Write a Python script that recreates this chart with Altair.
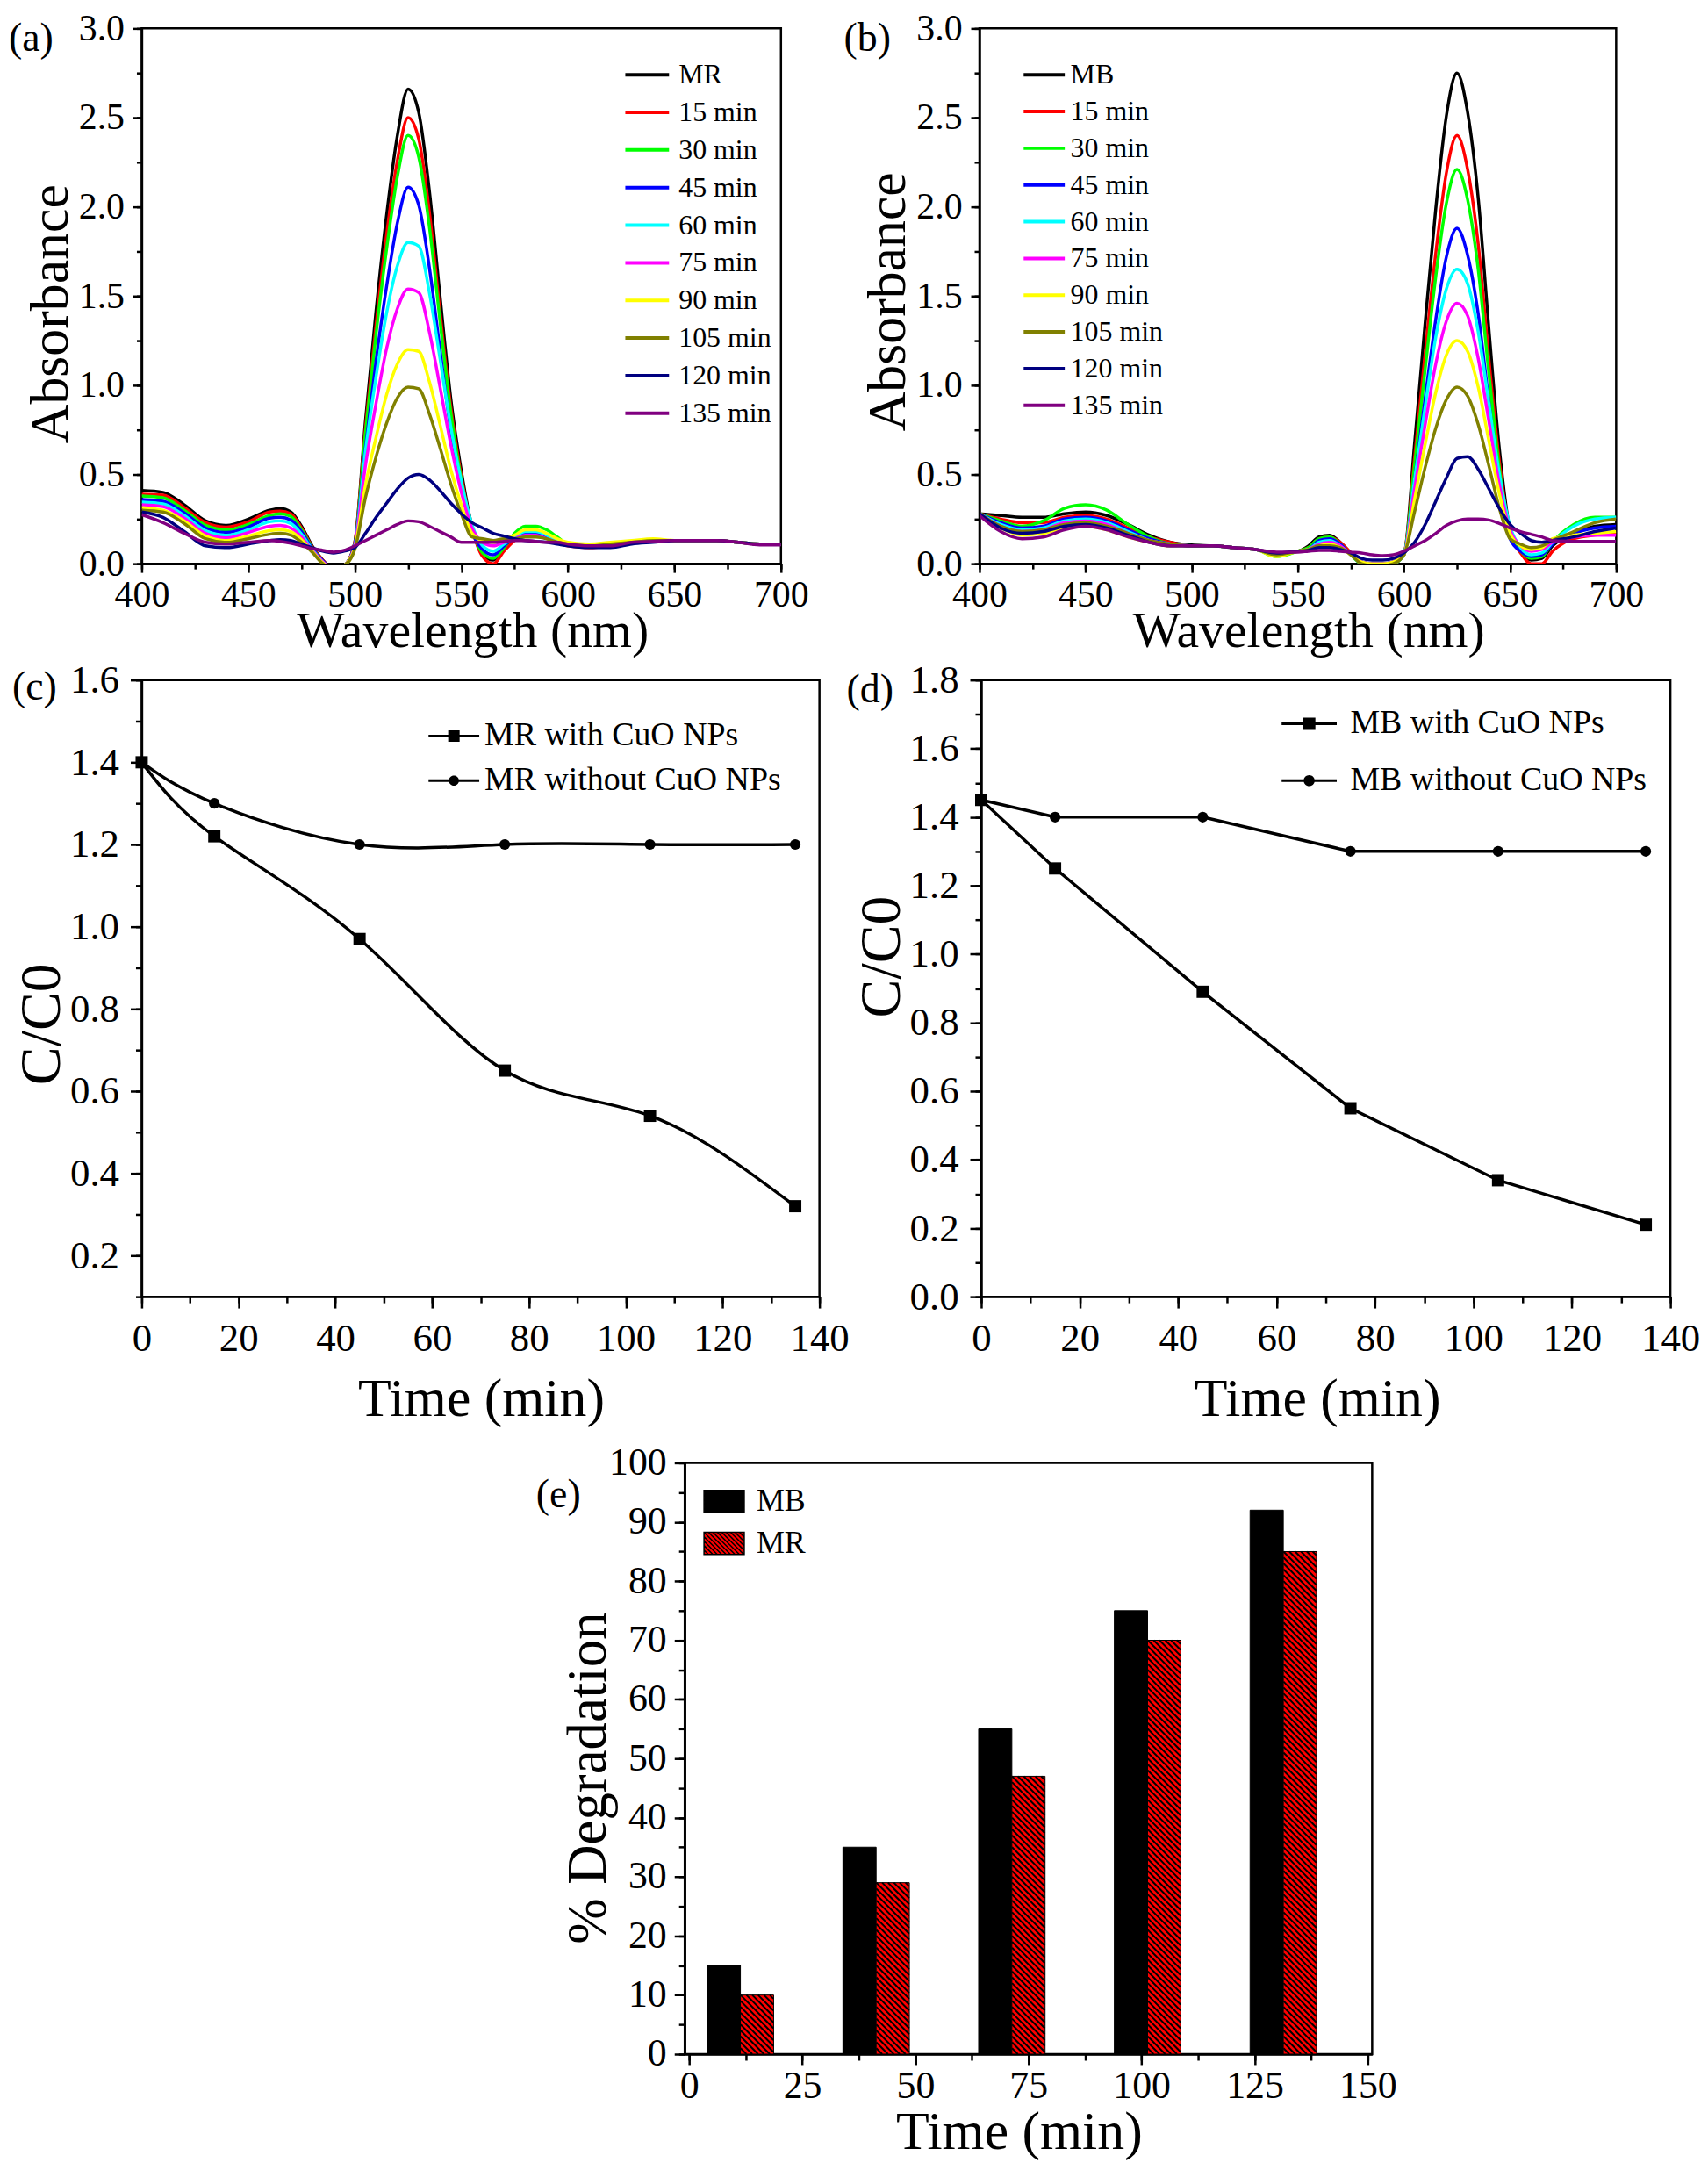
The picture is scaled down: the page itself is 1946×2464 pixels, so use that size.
import altair as alt
import pandas as pd

FONT = "Liberation Serif"

# ---------------- (a) MR absorption spectra ----------------
wl_a = [400, 410, 420, 430, 440, 450, 460, 465, 470, 475, 480, 485, 490, 495,
        500, 505, 510, 515, 520, 525, 530, 535, 540, 545, 550, 555, 560, 565,
        570, 575, 580, 585, 590, 595, 600, 610, 620, 630, 640, 650, 660, 670,
        680, 690, 700]
series_a = ["MR", "15 min", "30 min", "45 min", "60 min", "75 min", "90 min",
            "105 min", "120 min", "135 min"]
mr_0 = [0.41, 0.40, 0.33, 0.24, 0.215, 0.25, 0.30, 0.31, 0.29, 0.21, 0.10, 0.02, -0.03, -0.01,
        0.12, 0.80, 1.42, 1.96, 2.40, 2.66, 2.53, 2.09, 1.50, 0.93, 0.52, 0.21, 0.05, 0.02,
        0.09, 0.15, 0.18, 0.18, 0.16, 0.13, 0.11, 0.10, 0.11, 0.12, 0.13, 0.13, 0.13, 0.13,
        0.12, 0.11, 0.11]
mr_15 = [0.39, 0.385, 0.315, 0.23, 0.205, 0.235, 0.29, 0.295, 0.28, 0.20, 0.095, 0.02, -0.03, -0.01,
         0.12, 0.76, 1.34, 1.85, 2.26, 2.50, 2.38, 1.97, 1.41, 0.88, 0.49, 0.20, 0.04, 0.0,
         0.07, 0.13, 0.17, 0.17, 0.15, 0.12, 0.10, 0.09, 0.10, 0.12, 0.13, 0.13, 0.13, 0.13,
         0.12, 0.11, 0.11]
mr_30 = [0.38, 0.37, 0.30, 0.215, 0.19, 0.22, 0.27, 0.28, 0.265, 0.19, 0.09, 0.015, -0.03, -0.01,
         0.11, 0.73, 1.29, 1.77, 2.17, 2.40, 2.28, 1.89, 1.36, 0.85, 0.47, 0.20, 0.06, 0.03,
         0.09, 0.17, 0.21, 0.21, 0.19, 0.15, 0.11, 0.10, 0.11, 0.12, 0.13, 0.13, 0.13, 0.13,
         0.12, 0.11, 0.11]
mr_45 = [0.36, 0.35, 0.285, 0.20, 0.175, 0.205, 0.255, 0.26, 0.245, 0.18, 0.085, 0.015, -0.03, -0.01,
         0.11, 0.65, 1.14, 1.56, 1.91, 2.11, 2.01, 1.66, 1.20, 0.75, 0.43, 0.18, 0.08, 0.05,
         0.10, 0.15, 0.17, 0.17, 0.15, 0.13, 0.11, 0.10, 0.11, 0.12, 0.13, 0.13, 0.13, 0.13,
         0.12, 0.11, 0.11]
mr_60 = [0.345, 0.335, 0.27, 0.185, 0.16, 0.19, 0.235, 0.24, 0.225, 0.165, 0.08, 0.01, -0.03, -0.01,
         0.10, 0.63, 1.05, 1.41, 1.67, 1.80, 1.78, 1.52, 1.15, 0.77, 0.46, 0.22, 0.10, 0.07,
         0.11, 0.15, 0.18, 0.18, 0.16, 0.13, 0.11, 0.10, 0.11, 0.12, 0.13, 0.13, 0.13, 0.13,
         0.12, 0.11, 0.11]
mr_75 = [0.33, 0.32, 0.255, 0.17, 0.145, 0.175, 0.21, 0.215, 0.20, 0.15, 0.075, 0.01, -0.03, -0.01,
         0.10, 0.55, 0.90, 1.21, 1.43, 1.54, 1.52, 1.30, 0.99, 0.67, 0.40, 0.20, 0.12, 0.10,
         0.12, 0.14, 0.16, 0.16, 0.14, 0.12, 0.11, 0.10, 0.11, 0.12, 0.13, 0.13, 0.13, 0.13,
         0.12, 0.11, 0.11]
mr_90 = [0.315, 0.30, 0.24, 0.155, 0.13, 0.155, 0.185, 0.19, 0.18, 0.135, 0.07, 0.005, -0.03, -0.01,
         0.09, 0.44, 0.71, 0.95, 1.12, 1.20, 1.19, 1.02, 0.78, 0.53, 0.33, 0.17, 0.13, 0.12,
         0.14, 0.16, 0.19, 0.19, 0.17, 0.14, 0.12, 0.11, 0.12, 0.13, 0.14, 0.13, 0.13, 0.13,
         0.12, 0.11, 0.11]
mr_105 = [0.30, 0.29, 0.225, 0.14, 0.12, 0.14, 0.165, 0.17, 0.16, 0.12, 0.065, 0.0, -0.03, -0.01,
          0.08, 0.37, 0.60, 0.79, 0.93, 0.99, 0.98, 0.84, 0.65, 0.45, 0.28, 0.15, 0.14, 0.13,
          0.14, 0.14, 0.15, 0.15, 0.14, 0.12, 0.11, 0.10, 0.11, 0.12, 0.13, 0.13, 0.13, 0.13,
          0.12, 0.11, 0.11]
mr_120 = [0.29, 0.26, 0.18, 0.10, 0.09, 0.11, 0.13, 0.135, 0.13, 0.11, 0.09, 0.07, 0.06, 0.07,
          0.09, 0.17, 0.26, 0.34, 0.42, 0.48, 0.50, 0.47, 0.41, 0.34, 0.28, 0.23, 0.20, 0.17,
          0.155, 0.14, 0.13, 0.125, 0.12, 0.11, 0.10, 0.09, 0.09, 0.11, 0.12, 0.13, 0.13, 0.13,
          0.12, 0.11, 0.11]
mr_135 = [0.275, 0.23, 0.17, 0.12, 0.11, 0.12, 0.13, 0.125, 0.115, 0.10, 0.085, 0.075, 0.065, 0.075,
          0.10, 0.13, 0.16, 0.19, 0.22, 0.24, 0.235, 0.21, 0.18, 0.15, 0.12, 0.12, 0.12, 0.12,
          0.125, 0.13, 0.13, 0.125, 0.12, 0.12, 0.11, 0.10, 0.10, 0.12, 0.125, 0.13, 0.13, 0.13,
          0.12, 0.105, 0.105]

# ---------------- (b) MB absorption spectra ----------------
wl_b = [400, 410, 420, 430, 440, 450, 460, 470, 480, 490, 500, 510, 520, 530,
        540, 550, 555, 560, 565, 570, 575, 580, 585, 590, 595,
        600, 605, 610, 615, 620, 625, 630, 635, 640, 645, 650,
        655, 660, 665, 670, 680, 690, 700]
series_b = ["MB", "15 min", "30 min", "45 min", "60 min", "75 min", "90 min",
            "105 min", "120 min", "135 min"]
mb_0 = [0.28, 0.27, 0.26, 0.26, 0.28, 0.29, 0.27, 0.22, 0.16, 0.12, 0.105, 0.10, 0.09, 0.08,
        0.06, 0.07, 0.10, 0.15, 0.16, 0.12, 0.06, 0.01, 0.0, 0.0, 0.01,
        0.05, 0.67, 1.35, 1.99, 2.51, 2.75, 2.53, 2.05, 1.32, 0.64, 0.19,
        0.07, 0.02, 0.03, 0.10, 0.17, 0.21, 0.22]
mb_15 = [0.28, 0.25, 0.23, 0.23, 0.26, 0.27, 0.25, 0.20, 0.15, 0.12, 0.10, 0.10, 0.09, 0.08,
         0.05, 0.07, 0.09, 0.14, 0.15, 0.12, 0.06, 0.0, -0.01, -0.01, 0.0,
         0.05, 0.59, 1.18, 1.74, 2.19, 2.40, 2.21, 1.79, 1.15, 0.57, 0.17,
         0.06, 0.0, 0.0, 0.07, 0.14, 0.16, 0.17]
mb_30 = [0.28, 0.24, 0.21, 0.24, 0.31, 0.33, 0.30, 0.22, 0.15, 0.11, 0.10, 0.10, 0.09, 0.08,
         0.04, 0.07, 0.09, 0.14, 0.15, 0.11, 0.05, 0.0, -0.01, -0.01, 0.0,
         0.05, 0.55, 1.09, 1.61, 2.02, 2.21, 2.04, 1.65, 1.07, 0.53, 0.16,
         0.07, 0.03, 0.04, 0.12, 0.22, 0.26, 0.26]
mb_45 = [0.28, 0.23, 0.20, 0.21, 0.25, 0.26, 0.24, 0.19, 0.14, 0.11, 0.10, 0.10, 0.09, 0.08,
         0.05, 0.07, 0.08, 0.13, 0.14, 0.11, 0.05, 0.01, 0.0, 0.0, 0.01,
         0.05, 0.47, 0.93, 1.37, 1.72, 1.88, 1.73, 1.40, 0.91, 0.45, 0.14,
         0.07, 0.04, 0.05, 0.11, 0.17, 0.20, 0.21]
mb_60 = [0.28, 0.22, 0.19, 0.20, 0.24, 0.25, 0.23, 0.18, 0.13, 0.11, 0.10, 0.10, 0.09, 0.08,
         0.05, 0.07, 0.08, 0.12, 0.13, 0.10, 0.05, 0.0, -0.01, -0.01, 0.0,
         0.05, 0.47, 0.88, 1.27, 1.54, 1.65, 1.57, 1.30, 0.90, 0.50, 0.21,
         0.09, 0.05, 0.06, 0.12, 0.21, 0.25, 0.26]
mb_75 = [0.28, 0.21, 0.18, 0.19, 0.23, 0.24, 0.22, 0.17, 0.13, 0.11, 0.10, 0.10, 0.09, 0.08,
         0.05, 0.07, 0.08, 0.11, 0.12, 0.10, 0.05, 0.01, 0.0, 0.0, 0.01,
         0.05, 0.42, 0.78, 1.12, 1.36, 1.46, 1.39, 1.15, 0.80, 0.44, 0.19,
         0.10, 0.07, 0.08, 0.12, 0.15, 0.16, 0.16]
mb_90 = [0.27, 0.20, 0.16, 0.17, 0.20, 0.21, 0.19, 0.15, 0.12, 0.10, 0.10, 0.10, 0.09, 0.08,
         0.04, 0.07, 0.08, 0.10, 0.11, 0.09, 0.05, 0.01, 0.0, 0.0, 0.01,
         0.05, 0.36, 0.67, 0.96, 1.17, 1.25, 1.19, 0.99, 0.69, 0.39, 0.17,
         0.10, 0.08, 0.09, 0.14, 0.16, 0.17, 0.18]
mb_105 = [0.28, 0.21, 0.18, 0.19, 0.22, 0.23, 0.21, 0.17, 0.13, 0.11, 0.10, 0.10, 0.09, 0.08,
          0.05, 0.07, 0.08, 0.10, 0.10, 0.09, 0.05, 0.0, -0.01, -0.01, 0.0,
          0.05, 0.29, 0.54, 0.76, 0.92, 0.99, 0.94, 0.78, 0.55, 0.31, 0.14,
          0.11, 0.09, 0.10, 0.13, 0.18, 0.23, 0.25]
mb_120 = [0.28, 0.20, 0.17, 0.18, 0.21, 0.22, 0.20, 0.16, 0.12, 0.10, 0.10, 0.10, 0.09, 0.08,
          0.06, 0.07, 0.075, 0.09, 0.09, 0.08, 0.06, 0.03, 0.02, 0.02, 0.03,
          0.06, 0.12, 0.22, 0.35, 0.48, 0.59, 0.60, 0.53, 0.42, 0.31, 0.22,
          0.17, 0.13, 0.12, 0.13, 0.15, 0.18, 0.20]
mb_135 = [0.27, 0.18, 0.14, 0.15, 0.19, 0.21, 0.19, 0.15, 0.12, 0.10, 0.10, 0.10, 0.09, 0.08,
          0.065, 0.065, 0.07, 0.075, 0.075, 0.07, 0.065, 0.06, 0.05, 0.045, 0.05,
          0.07, 0.10, 0.13, 0.17, 0.215, 0.24, 0.25, 0.25, 0.245, 0.225, 0.20,
          0.18, 0.165, 0.15, 0.13, 0.125, 0.125, 0.125]

# ---------------- (c), (d) kinetics ----------------
time_k = [0, 15, 45, 75, 105, 135]
mr_with = [1.40, 1.22, 0.97, 0.65, 0.54, 0.32]
mr_without = [1.40, 1.30, 1.20, 1.20, 1.20, 1.20]
mb_with = [1.45, 1.25, 0.89, 0.55, 0.34, 0.21]
mb_without = [1.45, 1.40, 1.40, 1.30, 1.30, 1.30]

# ---------------- (e) % degradation ----------------
deg_time = [15, 45, 75, 105, 135]
deg_mb = [15, 35, 55, 75, 92]
deg_mr = [10, 29, 47, 70, 85]

COLORS = ["#000000", "#ff0000", "#00ff00", "#0000ff", "#00ffff",
          "#ff00ff", "#ffff00", "#808000", "#000080", "#800080"]


def long_df(wl, names, arrays):
    rows = []
    for n, arr in zip(names, arrays):
        assert len(arr) == len(wl), n
        for w, v in zip(wl, arr):
            rows.append({"wl": w, "A": v, "series": n})
    return pd.DataFrame(rows)


def axis_major(vals, fmt, title, orient, tsize, lsize, lpad, tfs, tpad, **kw):
    return alt.Axis(values=vals, format=fmt, title=title, orient=orient,
                    tickSize=tsize, tickWidth=2.5, tickColor="black",
                    domain=True, domainColor="black", domainWidth=2.5, grid=False,
                    labelFont=FONT, labelFontSize=lsize, labelColor="black",
                    labelPadding=lpad, labelFlush=False, labelOverlap=False,
                    titleFont=FONT, titleFontSize=tfs, titleFontWeight="normal",
                    titleColor="black", titlePadding=tpad, **kw)


def axis_minor(vals, orient, tsize):
    return alt.Axis(values=vals, orient=orient, tickSize=tsize, tickWidth=2.5,
                    tickColor="black", labels=False, domain=False, grid=False,
                    title=None)


def tag_layer(text, x, y):
    return alt.Chart(pd.DataFrame({"tag": [text]})).mark_text(
        align="left", baseline="middle", font=FONT, fontSize=46, color="black"
    ).encode(text="tag:N", x=alt.value(x), y=alt.value(y))


def spectra_panel(df, names, tag, tag_x, leg, W, H, tx, ty):
    sx = alt.Scale(domain=[400, 700], nice=False, zero=False)
    sy = alt.Scale(domain=[0, 3], nice=False, zero=False)
    lines = alt.Chart(df).mark_line(strokeWidth=3.5, clip=True, interpolate="monotone").encode(
        x=alt.X("wl:Q", scale=sx,
                axis=axis_major(list(range(400, 701, 50)), "d", "Wavelength (nm)", "bottom",
                                10, 42, 6, 58, -8, titleX=tx)),
        y=alt.Y("A:Q", scale=sy,
                axis=axis_major([0, 0.5, 1.0, 1.5, 2.0, 2.5, 3.0], ".1f", "Absorbance", "left",
                                10, 42, 10, 62, 13, titleBaseline="alphabetic", titleY=ty)),
        color=alt.Color("series:N", sort=names,
                        scale=alt.Scale(domain=names, range=COLORS), legend=leg),
    )
    minor = alt.Chart(df).mark_point(opacity=0).encode(
        x=alt.X("wl:Q", scale=sx, axis=axis_minor(list(range(400, 701, 25)), "bottom", 6)),
        y=alt.Y("A:Q", scale=sy, axis=axis_minor([i * 0.25 for i in range(13)], "left", 6)),
    )
    return alt.layer(lines, minor, tag_layer(tag, tag_x, 12)).resolve_axis(
        x="independent", y="independent").properties(width=W, height=H)


def spectra_legend(x, y, path, lab_off, row_pad):
    return alt.Legend(title=None, orient="none", legendX=x, legendY=y,
                      symbolType=path, symbolSize=400, symbolStrokeWidth=4,
                      labelFont=FONT, labelFontSize=32, labelColor="black", labelLimit=0,
                      labelOffset=lab_off, rowPadding=row_pad, padding=0)


PATH_SQ = "M-2,-0.1H2V0.1H-2ZM-0.45,-0.45H0.45V0.45H-0.45Z"
PATH_CI = "M-2,-0.1H2V0.1H-2ZM0.4,0A0.4,0.4,0,1,1,-0.4,0A0.4,0.4,0,1,1,0.4,0Z"


def kinetics_panel(with_v, without_v, names, ydom, ymaj, ymin, interp, W, H,
                   tag, tag_x, tag_y, leg_x, leg_y, leg_size, leg_off, leg_pad, tx, ty):
    df = pd.DataFrame({"t": time_k + time_k, "v": with_v + without_v,
                       "series": [names[0]] * len(time_k) + [names[1]] * len(time_k)})
    sx = alt.Scale(domain=[0, 140], nice=False, zero=False)
    sy = alt.Scale(domain=ydom, nice=False, zero=False)
    xn = alt.X("t:Q", scale=sx, axis=None)
    yn = alt.Y("v:Q", scale=sy, axis=None)
    lines = alt.Chart(df).mark_line(color="black", strokeWidth=3.5, interpolate=interp).encode(
        x=alt.X("t:Q", scale=sx,
                axis=axis_major(list(range(0, 141, 20)), "d", "Time (min)", "bottom",
                                13, 45, 13, 62, 16, titleX=tx)),
        y=alt.Y("v:Q", scale=sy,
                axis=axis_major(ymaj, ".1f", "C/C0", "left", 13, 45, 13, 66, 12,
                                titleBaseline="alphabetic", titleY=ty)),
        detail="series:N",
    )
    sq = alt.Chart(df).transform_filter(alt.datum.series == names[0]).mark_point(
        shape="square", filled=True, size=196, color="black", opacity=1).encode(x=xn, y=yn)
    ci = alt.Chart(df).transform_filter(alt.datum.series == names[1]).mark_point(
        shape="circle", filled=True, size=150, color="black", opacity=1).encode(x=xn, y=yn)
    leg = alt.Chart(df).transform_filter("false").mark_point(
        filled=True, color="black", opacity=1, size=leg_size).encode(
        x=xn, y=yn,
        shape=alt.Shape("series:N", sort=names,
                        scale=alt.Scale(domain=names, range=[PATH_SQ, PATH_CI]),
                        legend=alt.Legend(title=None, orient="none", legendX=leg_x, legendY=leg_y,
                                          symbolSize=leg_size, symbolStrokeWidth=0,
                                          symbolFillColor="black",
                                          labelFont=FONT, labelFontSize=38, labelColor="black",
                                          labelLimit=0,
                                          labelOffset=leg_off, rowPadding=leg_pad, padding=0)))
    minor = alt.Chart(df).mark_point(opacity=0).encode(
        x=alt.X("t:Q", scale=sx, axis=axis_minor(list(range(0, 141, 10)), "bottom", 7)),
        y=alt.Y("v:Q", scale=sy, axis=axis_minor(ymin, "left", 7)),
    )
    return alt.layer(lines, sq, ci, leg, minor, tag_layer(tag, tag_x, tag_y)).resolve_axis(
        x="independent", y="independent").properties(width=W, height=H)


# ---------------- build panels ----------------
W_A, W_B, H_AB = 731, 728, 612
W_C, W_D, H_CD = 775, 788, 705
W_E, H_E = 786, 676
BAR_PX = 38

df_a = long_df(wl_a, series_a, [mr_0, mr_15, mr_30, mr_45, mr_60, mr_75, mr_90, mr_105, mr_120, mr_135])
df_b = long_df(wl_b, series_b, [mb_0, mb_15, mb_30, mb_45, mb_60, mb_75, mb_90, mb_105, mb_120, mb_135])

panel_a = spectra_panel(df_a, series_a, "(a)", -152, spectra_legend(562, 37, "M-2.5,0H2.5", 20, 11),
                        W_A, H_AB, 378, 326)
panel_b = spectra_panel(df_b, series_b, "(b)", -155, spectra_legend(58, 37, "M-2.35,0H2.35", 14, 10),
                        W_B, H_AB, 376, 312)

ymaj_c = [round(0.2 * i, 1) for i in range(1, 9)]
ymin_c = [round(0.1 * i, 1) for i in range(1, 17)]
ymaj_d = [round(0.2 * i, 1) for i in range(0, 10)]
ymin_d = [round(0.1 * i, 1) for i in range(0, 19)]

panel_c = kinetics_panel(mr_with, mr_without, ["MR with CuO NPs", "MR without CuO NPs"],
                         [0.1, 1.6], ymaj_c, ymin_c, "natural", W_C, H_CD,
                         "(c)", -148, 8, 338, 45, 841, 16, 13, 388, 393)
panel_d = kinetics_panel(mb_with, mb_without, ["MB with CuO NPs", "MB without CuO NPs"],
                         [0.0, 1.8], ymaj_d, ymin_d, "linear", W_D, H_CD,
                         "(d)", -154, 11, 356, 31, 992, 28, 27, 384, 316)


def hatch_segments(times, tops):
    ux = W_E / 150.0
    uy = H_E / 100.0
    hw = BAR_PX / 2 / ux
    h = BAR_PX / uy
    d = 1.0
    rows = []
    for t, top in zip(times, tops):
        xl, xr = t - hw, t + hw
        k = 0
        y0 = -h
        while y0 < top:
            s0 = max(0.0, 1 - (top - y0) / h)
            s1 = min(1.0, 1 + y0 / h)
            if s1 > s0:
                rows.append({"x": xl + s0 * (xr - xl), "x2": xl + s1 * (xr - xl),
                             "y": y0 + h * (1 - s0), "y2": y0 + h * (1 - s1)})
            k += 1
            y0 = -h + k * d
    return pd.DataFrame(rows)


def hatch_symbol():
    parts = ["M-1,-0.55H1V0.55H-1Z"]
    x = -2.1
    while x < 1.0:
        u0 = max(0.0, (-1 - x) / 1.1)
        u1 = min(1.0, (1 - x) / 1.1)
        if u1 > u0:
            parts.append("M%.3f,%.3fL%.3f,%.3f" % (x + 1.1 * u0, -0.55 + 1.1 * u0,
                                                   x + 1.1 * u1, -0.55 + 1.1 * u1))
        x += 0.22
    return "".join(parts)


df_e = pd.DataFrame({"t": deg_time + deg_time, "pct": deg_mb + deg_mr,
                     "dye": ["MB"] * len(deg_time) + ["MR"] * len(deg_time)})
sx_e = alt.Scale(domain=[0, 150], nice=False, zero=False)
sy_e = alt.Scale(domain=[0, 100], nice=False, zero=False)
color_e = alt.Color("dye:N", sort=["MB", "MR"],
                    scale=alt.Scale(domain=["MB", "MR"], range=["#000000", "#ff0000"]),
                    legend=alt.Legend(title=None, orient="none", legendX=21, legendY=20,
                                      symbolType=hatch_symbol(), symbolSize=2116,
                                      symbolStrokeColor="black", symbolStrokeWidth=1.5,
                                      labelFont=FONT, labelFontSize=36, labelColor="black",
                                      labelOffset=13, rowPadding=6, padding=0))
bars_mb = alt.Chart(df_e).transform_filter(alt.datum.dye == "MB").mark_bar(
    width=BAR_PX, xOffset=-BAR_PX, orient="vertical", stroke="black", strokeWidth=1).encode(
    x=alt.X("t:Q", scale=sx_e,
            axis=axis_major([0, 25, 50, 75, 100, 125, 150], "d", "Time (min)", "bottom",
                            12, 44, 3, 62, 0, titleX=382)),
    y=alt.Y("pct:Q", scale=sy_e,
            axis=axis_major(list(range(0, 101, 10)), "d", "% Degradation", "left",
                            12, 44, 9, 63, 4, titleBaseline="alphabetic", titleY=360)),
    color=color_e)
bars_mr = alt.Chart(df_e).transform_filter(alt.datum.dye == "MR").mark_bar(
    width=BAR_PX, orient="vertical", stroke="black", strokeWidth=1).encode(
    x=alt.X("t:Q", scale=sx_e, axis=None), y=alt.Y("pct:Q", scale=sy_e, axis=None),
    color=color_e)
hatch = alt.Chart(hatch_segments(deg_time, deg_mr)).mark_rule(color="black", strokeWidth=2).encode(
    x=alt.X("x:Q", scale=sx_e, axis=None), x2="x2:Q",
    y=alt.Y("y:Q", scale=sy_e, axis=None), y2="y2:Q")
minor_e = alt.Chart(df_e).mark_point(opacity=0).encode(
    x=alt.X("t:Q", scale=sx_e, axis=axis_minor([12.5 * i for i in range(13)], "bottom", 7)),
    y=alt.Y("pct:Q", scale=sy_e, axis=axis_minor(list(range(0, 101, 5)), "left", 7)))
panel_e = alt.layer(bars_mb, bars_mr, hatch, minor_e, tag_layer("(e)", -170, 37)).resolve_axis(
    x="independent", y="independent").properties(width=W_E, height=H_E)

spacer = alt.Chart(pd.DataFrame({"s": ["."]})).mark_text(
    opacity=0, fontSize=4, baseline="top").encode(
    text="s:N", x=alt.value(0), y=alt.value(-38)).properties(
    width=548, height=H_E, view=alt.ViewBackground(stroke="transparent", fill="transparent"))


def indep(c):
    return c.resolve_scale(color="independent", shape="independent").resolve_legend(
        color="independent", shape="independent")


row1 = indep(alt.hconcat(panel_a, panel_b, spacing=227, bounds="flush"))
row2 = indep(alt.hconcat(panel_c, panel_d, spacing=185, bounds="flush"))
row3 = indep(alt.hconcat(spacer, panel_e, spacing=73, bounds="flush"))

chart = indep(alt.vconcat(row1, row2, row3, spacing=0)).configure_view(
    stroke="black", strokeWidth=2.5).properties(
    padding={"left": 0, "top": -3, "right": 0, "bottom": 0}, background="white")

chart.save("out.html", embed_options={"renderer": "svg", "actions": False})
